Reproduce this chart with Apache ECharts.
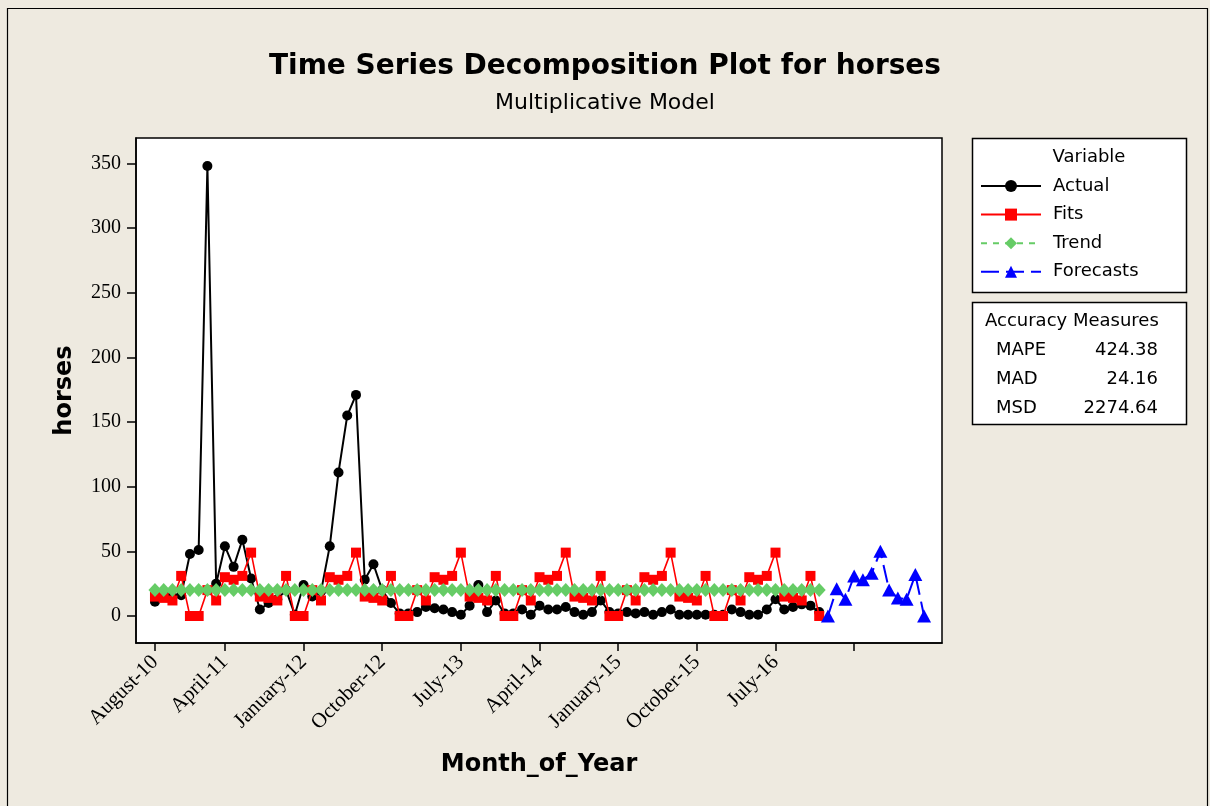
<!DOCTYPE html>
<html><head><meta charset="utf-8">
<script src="https://cdn.jsdelivr.net/npm/echarts@6/dist/echarts.min.js"></script>
<style>html,body{margin:0;padding:0;background:#EEEAE0;} #chart{width:1210px;height:806px;}</style>
</head><body><div id="chart"></div>
<script>
// ---- data (period index 1 = August-10) ----
const actual = [11,17,15,16,48,51,348,25,54,38,59,29,
  5,10,13,20,1,24,15,19,54,111,155,171,
  28,40,20,10,2,2,3,7,6,5,3,1,
  8,24,3,12,2,2,5,1,8,5,5,7,
  3,1,3,12,3,2,3,2,3,1,3,5,
  1,1,1,1,1,1,5,3,1,1,5,13,
  5,7,9,8,3];
const fits = [15,14,12,31,0,0,20,12,30,28,31,49,
  15,14,12,31,0,0,20,12,30,28,31,49,
  15,14,12,31,0,0,20,12,30,28,31,49,
  15,14,12,31,0,0,20,12,30,28,31,49,
  15,14,12,31,0,0,20,12,30,28,31,49,
  15,14,12,31,0,0,20,12,30,28,31,49,
  15,14,12,31,0];
const trend = [20,20,20,20,20,20,20,20,20,20,20,20,
  20,20,20,20,20,20,20,20,20,20,20,20,
  20,20,20,20,20,20,20,20,20,20,20,20,
  20,20,20,20,20,20,20,20,20,20,20,20,
  20,20,20,20,20,20,20,20,20,20,20,20,
  20,20,20,20,20,20,20,20,20,20,20,20,
  20,20,20,20,20];
const forecasts = [0,21,13,31,28,33,50,20,14,13,32,0];
const forecastStart = 78;
const tickValues = [1,9,18,27,36,45,54,63,72,81];
const tickLabels = ["August-10","April-11","January-12","October-12","July-13","April-14","January-15","October-15","July-16",""];
const yTicks = [0,50,100,150,200,250,300,350];
const seriesNames = ["Actual","Fits","Trend","Forecasts"];
const accuracyNames = ["MAPE","MAD","MSD"];
const accuracyValues = ["424.38","24.16","2274.64"];

const chart = echarts.init(document.getElementById('chart'), null, {renderer:'canvas'});
const sans = 'DejaVu Sans';
const serif = 'Liberation Serif';

const toXY = (arr, start) => arr.map((v, i) => [start + i, v]);

const graphic = [
  {type:'rect', shape:{x:7.5,y:8.5,width:1200,height:820}, style:{fill:'none', stroke:'#000', lineWidth:1.2}, silent:true},
  {type:'rect', shape:{x:972.5,y:138.5,width:214,height:154}, style:{fill:'#fff', stroke:'#000', lineWidth:1.5}, z:-1},
  {type:'text', x:1089, y:157, style:{text:'Variable', fill:'#000', font:'18px "DejaVu Sans"', textAlign:'center', textVerticalAlign:'middle'}},
  {type:'rect', shape:{x:972.5,y:302.5,width:214,height:122}, style:{fill:'#fff', stroke:'#000', lineWidth:1.5}, z:-1},
  {type:'text', x:985, y:321, style:{text:'Accuracy Measures', fill:'#000', font:'18px "DejaVu Sans"', textAlign:'left', textVerticalAlign:'middle'}}
];
accuracyNames.forEach((n, i) => {
  graphic.push({type:'text', x:996, y:350 + i*29, style:{text:n, fill:'#000', font:'18px "DejaVu Sans"', textAlign:'left', textVerticalAlign:'middle'}});
  graphic.push({type:'text', x:1158, y:350 + i*29, style:{text:accuracyValues[i], fill:'#000', font:'18px "DejaVu Sans"', textAlign:'right', textVerticalAlign:'middle'}});
});

const option = {
  backgroundColor:'#EEEAE0',
  animation:false,
  title:[
    {text:'Time Series Decomposition Plot for horses', left:'center', top:48,
     textStyle:{fontFamily:sans, fontSize:28, fontWeight:'bold', color:'#000'}},
    {text:'Multiplicative Model', left:'center', top:87,
     textStyle:{fontFamily:sans, fontSize:22, fontWeight:'normal', color:'#000'}}
  ],
  legend:{
    orient:'vertical', left:980, top:177, padding:0, itemWidth:60, itemHeight:15, itemGap:10.6,
    data:seriesNames, textStyle:{fontFamily:sans, fontSize:18, color:'#000', padding:[0,0,0,7]},
    selectedMode:false
  },
  grid:{left:136, top:138, width:806, height:505, show:true, backgroundColor:'#fff', borderColor:'#000', borderWidth:1.5, containLabel:false},
  xAxis:{
    type:'value', min:-1.17, max:91.05,
    name:'Month_of_Year', nameLocation:'middle', nameGap:110,
    nameTextStyle:{fontFamily:sans, fontSize:24, fontWeight:'bold', color:'#000'},
    axisLine:{show:true, onZero:false, lineStyle:{color:'#000', width:1.5}},
    axisTick:{show:true, customValues:tickValues, length:8, lineStyle:{color:'#000', width:1.5}},
    axisLabel:{show:true, customValues:tickValues.slice(0,9), rotate:45, margin:16,
      fontFamily:serif, fontSize:21, color:'#000',
      formatter:(v) => tickLabels[tickValues.indexOf(v)] || ''},
    splitLine:{show:false}
  },
  yAxis:{
    type:'value', min:-20.9, max:369.7,
    name:'horses', nameLocation:'middle', nameGap:59, nameRotate:90,
    nameTextStyle:{fontFamily:sans, fontSize:24, fontWeight:'bold', color:'#000'},
    axisLine:{show:true, onZero:false, lineStyle:{color:'#000', width:1.5}},
    axisTick:{show:true, customValues:yTicks, length:9, lineStyle:{color:'#000', width:1.5}},
    axisLabel:{show:true, customValues:yTicks, margin:15, fontFamily:serif, fontSize:20, color:'#000'},
    splitLine:{show:false}
  },
  series:[
    {name:'Actual', type:'line', data:toXY(actual,1), symbol:'circle', symbolSize:10,
     itemStyle:{color:'#000'}, lineStyle:{color:'#000', width:2}, z:2},
    {name:'Fits', type:'line', data:toXY(fits,1), symbol:'rect', symbolSize:10,
     itemStyle:{color:'#FF0000'}, lineStyle:{color:'#FF0000', width:1.6}, z:3},
    {name:'Trend', type:'line', data:toXY(trend,1), symbol:'diamond', symbolSize:[13,14],
     itemStyle:{color:'#66CC66'}, lineStyle:{color:'#66CC66', width:1.6, type:[6,6]}, z:4},
    {name:'Forecasts', type:'line', data:toXY(forecasts,forecastStart), symbol:'triangle', symbolSize:[14,13],
     itemStyle:{color:'#0000FF'}, lineStyle:{color:'#0000FF', width:2, type:[18,7]}, z:5}
  ],
  graphic:graphic
};
chart.setOption(option);
</script></body></html>
